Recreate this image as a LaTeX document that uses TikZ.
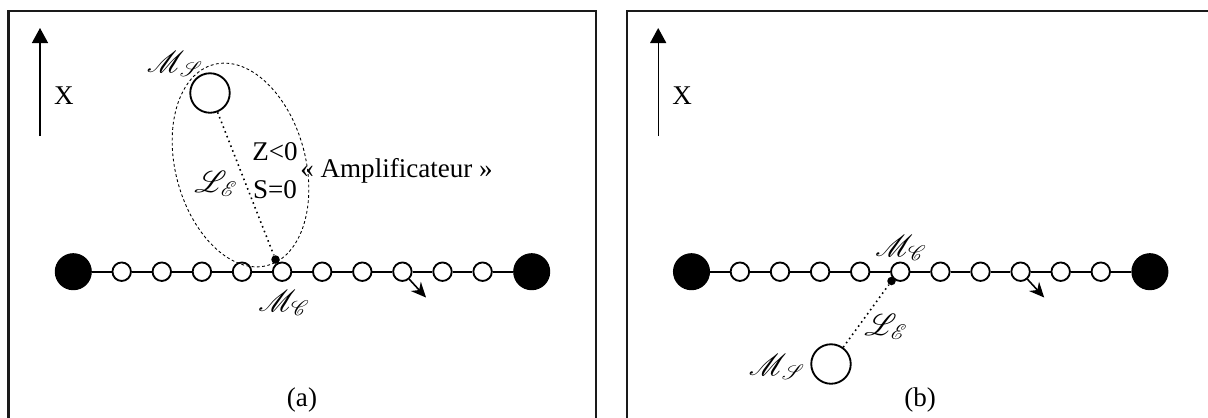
\documentclass[tikz,border=0pt]{standalone}
\usepackage{fontspec}
\setmainfont{Liberation Serif}
\usepackage{mathrsfs}
\usetikzlibrary{arrows.meta,calc,positioning}
\definecolor{chnInk}  {HTML}{000000}
\definecolor{frmInk}  {HTML}{1A1A1A}
\definecolor{bgPaper} {HTML}{FFFFFF}
\newcommand{\chainpanel}[2]{%
  \begin{scope}[shift={(#1,0)}]
  \draw[pfrm] (8.5,440) -- (8.5,11.3) -- (596,11.3) -- (596,440);
  \coordinate (#2axA) at (40,136);
  \coordinate (#2axB) at (40,28);
  \draw[xax] (#2axA) -- (#2axB);
  \node[txt] (#2X) at (64,96) {X};
  \node[bigm] (#2L) at (73.3,271.7) {};
  \foreach \k in {1,...,10} \node[smallm] (#2\k) at ({81.6+40.1*\k},271.7) {};
  \node[bigm] (#2R) at (531.7,271.7) {};
  \draw[lnk] (#2L) -- (#21);
  \foreach \k [evaluate=\k as \kn using int(\k+1)] in {1,...,9} \draw[lnk] (#2\k) -- (#2\kn);
  \draw[lnk] (#210) -- (#2R);
  \coordinate (#2tip) at (426,297.5);
  \draw[kick] (#28) -- (#2tip);
  \node[txt] (#2cap) at (302,400) {(#2)};
  \end{scope}
}

\begin{document}
\begin{tikzpicture}[x=0.02cm, y=-0.02cm,
  every node/.style ={font=\fontsize{15.4}{18}\selectfont},
  pfrm/.style       ={draw=frmInk, line width=1.2pt},
  xax/.style        ={-{Triangle[length=0.3cm, width=0.32cm]}, line width=0.75pt, chnInk},
  txt/.style        ={inner sep=0pt, text=chnInk},
  lbl/.style        ={inner sep=0pt, text=chnInk, font=\fontsize{17.5}{20}\selectfont},
  bigm/.style       ={circle, fill=chnInk, draw=chnInk, line width=0.6pt, minimum size=0.72cm, inner sep=0pt},
  smallm/.style     ={circle, fill=bgPaper, draw=chnInk, line width=1.05pt, minimum size=0.37cm, inner sep=0pt},
  msnode/.style     ={circle, fill=bgPaper, draw=chnInk, line width=1.05pt, minimum size=0.79cm, inner sep=0pt},
  dotm/.style       ={circle, fill=chnInk, minimum size=0.17cm, inner sep=0pt},
  lnk/.style        ={line width=1.1pt, chnInk},
  kick/.style       ={-{Stealth[length=0.3cm, width=0.27cm]}, line width=0.9pt, chnInk},
  lien/.style       ={dotted, line width=0.9pt, chnInk},
  zone/.style       ={dash pattern=on 1.6pt off 1.4pt, line width=0.5pt, chnInk},
]
\useasboundingbox[fill=bgPaper] (0,0) rectangle (1208,417);

\chainpanel{0}{a}
\chainpanel{618.2}{b}

\node[msnode] (aS) at (210,93) {};
\node[dotm] (aD) at (275.5,259.5) {};
\draw[lien] (aS) -- (aD);
\begin{scope}[shift={(240.5,165)}, rotate=15]
  \draw[zone] (0,0) ellipse [x radius=65, y radius=104];
\end{scope}
\node[lbl] (aSl) at (175,64) {$\mathscr{M}_{\mathscr{S}}$};
\node[lbl] (aCl) at (284,303) {$\mathscr{M}_{\mathscr{C}}$};
\node[lbl] (aEl) at (216,184) {$\mathscr{L}_{\mathscr{E}}$};
\node[txt] (aZ) at (275,152) {Z<0};
\node[txt] (aS0) at (275,190) {S=0};
\node[txt, anchor=west] (aAmp) at (300,171) {« Amplificateur »};

\node[msnode] (bS) at (831,364) {};
\node[dotm] (bD) at (891.5,281) {};
\draw[lien] (bS) -- (bD);
\node[lbl] (bSl) at (777,367) {$\mathscr{M}_{\mathscr{S}}$};
\node[lbl] (bCl) at (901,248) {$\mathscr{M}_{\mathscr{C}}$};
\node[lbl] (bEl) at (886,327) {$\mathscr{L}_{\mathscr{E}}$};

\end{tikzpicture}
\end{document}
